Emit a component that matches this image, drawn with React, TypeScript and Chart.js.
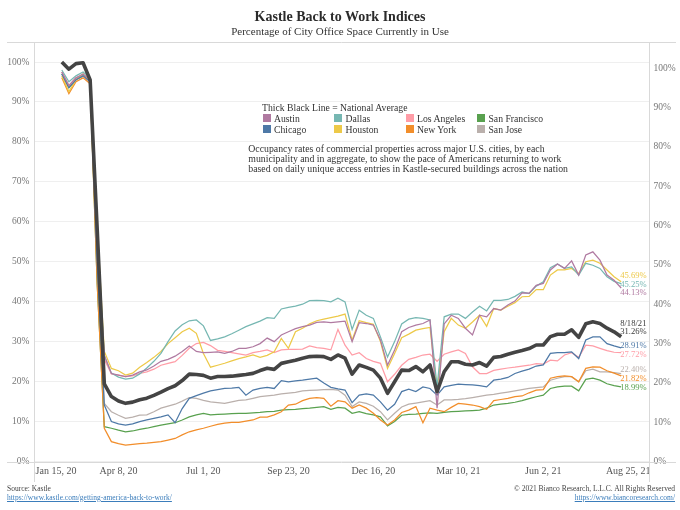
import React, { useEffect, useRef } from "react";
import { Chart, registerables } from "chart.js";

Chart.register(...registerables);

const FONT = "'Liberation Serif', 'Times New Roman', serif";

const AXIS_START = "2020-01-15";
const AXIS_END = "2021-09-15";

const DATES = [
  "2020-02-12", "2020-02-19", "2020-02-26", "2020-03-04", "2020-03-11", "2020-03-18", "2020-03-25",
  "2020-04-01", "2020-04-08", "2020-04-15", "2020-04-22", "2020-04-29",
  "2020-05-06", "2020-05-13", "2020-05-20", "2020-05-27",
  "2020-06-03", "2020-06-10", "2020-06-17", "2020-06-24",
  "2020-07-01", "2020-07-08", "2020-07-15", "2020-07-22", "2020-07-29",
  "2020-08-05", "2020-08-12", "2020-08-19", "2020-08-26",
  "2020-09-02", "2020-09-09", "2020-09-16", "2020-09-23", "2020-09-30",
  "2020-10-07", "2020-10-14", "2020-10-21", "2020-10-28",
  "2020-11-04", "2020-11-11", "2020-11-18", "2020-11-25",
  "2020-12-02", "2020-12-09", "2020-12-16", "2020-12-23", "2020-12-30",
  "2021-01-06", "2021-01-13", "2021-01-20", "2021-01-27",
  "2021-02-03", "2021-02-10", "2021-02-17", "2021-02-24",
  "2021-03-03", "2021-03-10", "2021-03-17", "2021-03-24", "2021-03-31",
  "2021-04-07", "2021-04-14", "2021-04-21", "2021-04-28",
  "2021-05-05", "2021-05-12", "2021-05-19", "2021-05-26",
  "2021-06-02", "2021-06-09", "2021-06-16", "2021-06-23", "2021-06-30",
  "2021-07-07", "2021-07-14", "2021-07-21", "2021-07-28",
  "2021-08-04", "2021-08-11", "2021-08-18",
];

const TICK_DATES = [
  "2020-01-15", "2020-04-08", "2020-07-01", "2020-09-23",
  "2020-12-16", "2021-03-10", "2021-06-02", "2021-08-25",
];
const TICK_LABELS = [
  "Jan 15, 20", "Apr 8, 20", "Jul 1, 20", "Sep 23, 20",
  "Dec 16, 20", "Mar 10, 21", "Jun 2, 21", "Aug 25, 21",
];

const NATIONAL_AVERAGE = [
  100, 98.2, 99.6, 99.8, 95.5, 58,
  19.5, 16.3, 15.2, 14.6, 14.9, 15.5, 15.9, 16.6, 17.4, 18.3,
  19.0, 20.3, 21.9, 21.8, 21.6, 20.9, 21.3, 21.3, 21.4, 21.6,
  21.8, 22.1, 22.8, 23.4, 23.1, 24.6, 25.0, 25.4, 25.9, 26.3,
  26.4, 26.3, 25.6, 26.7, 25.9, 21.9, 24.2, 23.6, 22.9, 20.9,
  17.1, 20.0, 22.9, 22.8, 23.8, 22.5, 24.2, 17.5, 22.5, 25.0,
  25.0, 24.4, 24.2, 24.8, 23.9, 26.1, 26.3, 26.9, 27.4, 27.8,
  28.3, 29.2, 29.2, 31.3, 31.9, 31.9, 33.0, 31.1, 34.5, 35.0,
  34.6, 33.4, 32.5, 31.26,
];

const AUSTIN = [
  99, 95.5, 97.5, 98.5, 97, 55,
  27, 22.4, 22.0, 21.6, 22.0, 22.8, 23.3, 24.3, 25.5, 26.0,
  26.8, 28.0, 29.4, 28.0, 27.7, 27.8, 27.9, 27.5, 28.0, 28.8,
  28.8, 29.2, 30.0, 31.4, 30.5, 32.2, 33.0, 33.8, 34.3, 34.7,
  35.4, 35.5, 35.3, 35.5, 35.7, 30.5, 35.3, 35.1, 34.7, 30.9,
  24.5, 28.4, 33.0, 34.1, 34.7, 35.1, 36.0, 13.6, 35.0, 37.2,
  36.4, 33.9, 32.2, 37.2, 36.8, 38.9, 38.5, 39.8, 40.8, 42.9,
  42.8, 44.8, 45.3, 48.7, 50.2, 49.1, 51.0, 47.4, 52.5, 53.3,
  51.2, 47.4, 46.1, 44.13,
];

const CHICAGO = [
  98.5, 95, 97, 98, 96.5, 50,
  14.4, 10.2, 9.6, 9.3, 9.6, 10.2, 10.6, 11.0, 11.4, 11.9,
  9.9, 13.5, 16.1, 16.8, 17.4, 18.0, 18.3, 18.6, 18.7, 18.9,
  16.9, 18.2, 18.6, 18.9, 18.6, 20.6, 20.3, 20.5, 20.7, 21.0,
  21.2, 20.0, 18.9, 18.5, 18.2, 15.0, 16.9, 17.2, 16.9, 15.2,
  13.1, 14.6, 17.8, 18.4, 17.8, 19.0, 18.6, 16.9, 19.0, 19.4,
  19.7, 19.6, 19.5, 19.3, 19.0, 20.7, 21.0, 21.4, 22.4, 23.0,
  23.5, 24.3, 24.6, 27.5, 27.7, 27.7, 27.9, 26.2, 30.9, 31.7,
  31.7, 30.0, 29.4, 28.91,
];

const DALLAS = [
  99.5, 96.5, 98, 99, 97.5, 58,
  27, 22.5, 21.5, 21.0, 21.2, 22.3, 23.8, 25.5, 27.5, 30.5,
  33.2, 34.8, 35.8, 36.0, 34.5, 30.8, 31.2, 31.7, 32.5, 33.4,
  34.3, 35.0, 35.7, 36.6, 36.4, 38.8, 39.2, 39.5, 40.0, 40.9,
  41.0, 40.9, 40.6, 41.5, 40.6, 33.6, 38.5, 37.2, 36.4, 31.7,
  26.6, 30.5, 35.0, 36.2, 36.6, 36.4, 36.0, 19.0, 36.8, 37.5,
  37.5, 36.4, 38.0, 39.5, 38.3, 41.0, 41.0, 41.2, 42.0, 43.1,
  42.7, 44.6, 45.7, 49.3, 50.2, 49.1, 49.5, 47.4, 50.4, 49.9,
  49.1, 47.0, 45.8, 45.25,
];

const HOUSTON = [
  98, 94, 97, 98.5, 96.5, 60,
  28, 23.7, 23.1, 22.0, 22.5, 24.0, 25.2, 26.5, 28.0, 30.0,
  31.5, 33.0, 33.9, 32.6, 27.5, 24.0, 24.5, 25.0, 25.6, 26.2,
  26.6, 27.1, 26.5, 27.0, 27.9, 31.3, 28.8, 33.0, 33.9, 35.0,
  35.8, 36.2, 36.6, 37.0, 37.5, 30.9, 35.8, 35.3, 34.9, 30.5,
  23.7, 27.5, 31.5, 32.4, 33.4, 33.8, 34.1, 18.2, 33.0, 36.4,
  34.7, 33.9, 35.5, 37.2, 34.4, 38.9, 38.5, 39.5, 40.4, 41.9,
  42.0, 43.7, 43.7, 47.4, 48.7, 48.7, 49.1, 47.8, 50.8, 51.2,
  50.4, 48.7, 47.0, 45.69,
];

const LOS_ANGELES = [
  99, 95.5, 97.5, 98, 96.5, 52,
  26, 22.3, 22.0, 21.6, 21.8, 22.4, 22.8, 23.5, 24.5, 25.0,
  25.4, 27.0, 28.8, 30.0, 30.3, 29.5, 28.3, 28.0, 27.7, 27.4,
  27.1, 27.7, 28.0, 28.4, 27.7, 28.4, 28.5, 28.5, 28.6, 29.4,
  29.0, 28.8, 28.4, 33.6, 29.6, 27.1, 27.7, 26.2, 25.5, 25.0,
  20.3, 22.2, 24.5, 26.0, 26.5, 27.1, 27.3, 25.5, 27.3, 27.9,
  28.4, 27.5, 24.1, 22.4, 22.4, 23.2, 23.5, 23.8, 24.0, 24.3,
  24.5, 24.9, 24.8, 25.8, 25.6, 27.1, 27.7, 26.5, 29.6, 29.4,
  28.8, 28.2, 27.8, 27.72,
];

const NEW_YORK = [
  97.5, 93.5, 96.5, 97.5, 96, 45,
  8.5, 5.1, 4.6, 4.2, 4.4, 4.6, 4.7, 4.9, 5.1, 5.5,
  5.9, 6.8, 7.6, 8.1, 8.5, 9.0, 9.5, 9.8, 10.0, 10.0,
  10.3, 10.6, 11.3, 11.3, 11.9, 12.7, 14.4, 14.6, 15.5, 16.1,
  16.3, 16.1, 14.1, 15.5, 15.2, 13.6, 14.4, 13.6, 12.3, 10.6,
  9.3, 10.6, 12.5, 13.1, 14.0, 9.9, 13.6, 13.1, 12.7, 13.8,
  14.8, 14.6, 14.4, 14.0, 13.3, 15.5, 15.8, 16.1, 16.5, 16.7,
  17.5, 18.2, 18.3, 21.2, 21.6, 21.8, 21.6, 20.3, 23.7, 24.1,
  24.0, 23.1, 22.5, 21.82,
];

const SAN_FRANCISCO = [
  98.5, 95, 97, 98, 96.5, 45,
  8.9, 8.5, 8.0, 7.6, 7.8, 8.2, 8.5, 8.9, 9.3, 9.6,
  9.9, 10.6, 11.4, 11.9, 12.3, 11.9, 12.0, 12.1, 12.2, 12.3,
  12.3, 12.4, 12.5, 12.7, 12.8, 13.1, 13.2, 13.3, 13.5, 13.6,
  13.8, 14.0, 13.3, 13.8, 13.6, 12.3, 12.7, 12.2, 11.9, 11.4,
  9.1, 10.2, 11.8, 12.0, 12.1, 12.3, 12.4, 12.3, 12.5, 12.7,
  12.8, 12.9, 13.0, 13.1, 13.6, 14.4, 14.6, 14.8, 15.1, 15.5,
  16.0, 16.5, 16.9, 18.6, 19.0, 19.2, 19.2, 18.0, 20.9, 21.2,
  20.7, 19.8, 19.3, 18.99,
];

const SAN_JOSE = [
  99, 95.5, 97.5, 98, 97, 48,
  14.8, 12.7, 11.8, 11.0, 11.3, 11.8, 11.9, 12.7, 13.6, 14.1,
  14.6, 15.4, 16.3, 16.1, 15.6, 15.2, 15.0, 14.8, 15.2, 15.6,
  15.7, 16.1, 16.5, 16.7, 16.9, 17.2, 17.4, 17.6, 18.0, 18.1,
  18.2, 18.3, 18.4, 18.2, 16.9, 14.0, 15.2, 14.8, 14.1, 12.7,
  10.6, 12.3, 13.9, 14.6, 14.9, 15.2, 15.5, 14.4, 15.7, 15.7,
  15.8, 16.0, 16.3, 16.6, 16.9, 17.1, 17.4, 17.7, 18.0, 18.3,
  18.6, 18.8, 19.0, 20.7, 21.2, 21.6, 21.6, 20.3, 23.1, 23.5,
  22.8, 22.8, 22.6, 22.40,
];

const CITY_NAMES = [
  "Austin", "Chicago", "Dallas", "Houston",
  "Los Angeles", "New York", "San Francisco", "San Jose",
];
const CITY_VALUES = [
  AUSTIN, CHICAGO, DALLAS, HOUSTON,
  LOS_ANGELES, NEW_YORK, SAN_FRANCISCO, SAN_JOSE,
];
const CITY_COLORS = [
  "#b07aa1", "#4e79a7", "#76b7b2", "#edc948",
  "#ff9da7", "#f28e2b", "#59a14f", "#bab0ac",
];
const AVERAGE_COLOR = "#444444";

const LAST_DATE_LABEL = "8/18/21";
const TITLE = "Kastle Back to Work Indices";
const SUBTITLE = "Percentage of City Office Space Currently in Use";
const LEGEND_HEADER = "Thick Black Line = National Average";
const NOTE_LINES = [
  "Occupancy rates of commercial properties across major U.S. cities, by each",
  "municipality and in aggregate, to show the pace of Americans returning to work",
  "based on daily unique access entries in Kastle-secured buildings across the nation",
];
const SOURCE_TEXT = "Source: Kastle";
const SOURCE_URL = "https://www.kastle.com/getting-america-back-to-work/";
const COPYRIGHT_TEXT = "\u00A9 2021 Bianco Research, L.L.C. All Rights Reserved";
const COPYRIGHT_URL = "https://www.biancoresearch.com/";

const DAY_MS = 86400000;
const toWeeks = (iso: string) =>
  (Date.parse(iso + "T00:00:00Z") - Date.parse(AXIS_START + "T00:00:00Z")) / (7 * DAY_MS);

const TICK_WEEKS = TICK_DATES.map(toWeeks);

let measureCtx: CanvasRenderingContext2D | null = null;
function padFirstLabel(label: string, font: string) {
  if (!measureCtx) measureCtx = document.createElement("canvas").getContext("2d");
  if (!measureCtx) return label;
  measureCtx.font = font;
  const w = measureCtx.measureText(label).width;
  const sp = measureCtx.measureText(" ").width || 3;
  const n = Math.max(0, Math.round((w + 4) / sp));
  return " ".repeat(n) + label;
}

const framePlugin = {
  id: "frameLines",
  beforeDatasetsDraw(chart: any) {
    const { ctx, chartArea: a } = chart;
    ctx.save();
    ctx.strokeStyle = "#d9d9d9";
    ctx.lineWidth = 1;
    ctx.beginPath();
    ctx.moveTo(7, Math.round(a.top) + 0.5);
    ctx.lineTo(676, Math.round(a.top) + 0.5);
    ctx.moveTo(7, Math.round(a.bottom) + 0.5);
    ctx.lineTo(676, Math.round(a.bottom) + 0.5);
    ctx.moveTo(Math.round(a.left) + 0.5, a.top);
    ctx.lineTo(Math.round(a.left) + 0.5, 482);
    ctx.moveTo(Math.round(a.right) - 0.5, a.top);
    ctx.lineTo(Math.round(a.right) - 0.5, 482);
    ctx.stroke();
    ctx.restore();
  },
};

const endLabelPlugin = {
  id: "endLabels",
  afterDatasetsDraw(chart: any) {
    const ctx = chart.ctx;
    ctx.save();
    ctx.font = `8.6px ${FONT}`;
    ctx.textAlign = "left";
    ctx.textBaseline = "middle";
    const items: any[] = [];
    chart.data.datasets.forEach((ds: any, i: number) => {
      const meta = chart.getDatasetMeta(i);
      const el = meta.data[meta.data.length - 1];
      const value = ds.data[ds.data.length - 1].y;
      const text = value.toFixed(2) + "%";
      if (ds.isAverage) {
        ctx.fillStyle = "#3a3a3a";
        ctx.fillText(LAST_DATE_LABEL, el.x - 1, el.y - 13.5);
        ctx.fillText(text, el.x - 1, el.y - 4.8);
      } else {
        items.push({ x: el.x, target: el.y, text, color: ds.borderColor });
      }
    });
    const GAP = 8.6;
    items.sort((a, b) => a.target - b.target);
    let clusters = items.map((it) => ({ members: [it] }));
    const topOf = (c: any) =>
      c.members.reduce((s: number, m: any) => s + m.target, 0) / c.members.length -
      ((c.members.length - 1) * GAP) / 2;
    let merged = true;
    while (merged) {
      merged = false;
      for (let i = 0; i < clusters.length - 1; i++) {
        const a = clusters[i];
        const b = clusters[i + 1];
        if (topOf(a) + a.members.length * GAP > topOf(b)) {
          clusters.splice(i, 2, { members: a.members.concat(b.members) });
          merged = true;
          break;
        }
      }
    }
    clusters.forEach((c) => {
      const t = topOf(c);
      c.members.forEach((m: any, k: number) => {
        ctx.fillStyle = m.color;
        ctx.fillText(m.text, m.x - 1, t + k * GAP);
      });
    });
    ctx.restore();
  },
};

const LEFT_MAX = (100 * (461.7 - 42)) / (461.7 - 62);
const RIGHT_MAX = (100 * (461.7 - 42)) / (461.7 - 68);

export default function App() {
  const canvasRef = useRef<HTMLCanvasElement | null>(null);

  useEffect(() => {
    if (!canvasRef.current) return;
    const xs = DATES.map(toWeeks);
    const tickFontSize = 10;
    const tickFont = `${tickFontSize}px ${FONT}`;

    const datasets: any[] = [
      {
        label: "National Average",
        data: NATIONAL_AVERAGE.map((v, i) => ({ x: xs[i], y: v })),
        borderColor: AVERAGE_COLOR,
        borderWidth: 3.6,
        pointRadius: 0,
        tension: 0,
        yAxisID: "y",
        isAverage: true,
        borderJoinStyle: "round",
      },
      ...CITY_NAMES.map((name, c) => ({
        label: name,
        data: CITY_VALUES[c].map((v, i) => ({ x: xs[i], y: v })),
        borderColor: CITY_COLORS[c],
        borderWidth: 1.25,
        pointRadius: 0,
        tension: 0,
        yAxisID: "y1",
      })),
    ];

    const chart = new Chart(canvasRef.current, {
      type: "line",
      data: { datasets },
      options: {
        animation: false,
        responsive: false,
        maintainAspectRatio: false,
        layout: { padding: { top: 42, left: 0, right: 0, bottom: 0 } },
        plugins: {
          legend: { display: false },
          tooltip: { enabled: false },
          title: { display: false },
        },
        scales: {
          x: {
            type: "linear",
            min: 0,
            max: toWeeks(AXIS_END),
            grid: { display: false, drawTicks: false },
            border: { display: false },
            afterBuildTicks: (scale: any) => {
              scale.ticks = TICK_WEEKS.map((value) => ({ value }));
            },
            afterFit: (scale: any) => {
              scale.height = 510 - 461.7;
              scale.paddingLeft = 0;
              scale.paddingRight = 0;
            },
            ticks: {
              autoSkip: false,
              maxRotation: 0,
              minRotation: 0,
              padding: 4,
              color: "#555",
              font: { family: FONT, size: tickFontSize },
              callback: (value: any) => {
                const idx = TICK_WEEKS.findIndex((w) => Math.abs(w - value) < 1e-6);
                if (idx < 0) return "";
                const label = TICK_LABELS[idx];
                return idx === 0 ? padFirstLabel(label, tickFont) : label;
              },
            },
          },
          y: {
            position: "left",
            min: 0,
            max: LEFT_MAX,
            grid: { color: "#efefef", drawTicks: false },
            border: { display: false },
            afterFit: (scale: any) => {
              scale.width = 33.5;
            },
            ticks: {
              stepSize: 10,
              includeBounds: false,
              padding: 4,
              color: "#777",
              font: { family: FONT, size: 9.5 },
              callback: (v: any) => (v <= 100 ? `${v}%` : ""),
            },
          },
          y1: {
            position: "right",
            min: 0,
            max: RIGHT_MAX,
            grid: { display: false, drawTicks: false },
            border: { display: false },
            afterFit: (scale: any) => {
              scale.width = 680 - 649.5;
            },
            ticks: {
              stepSize: 10,
              includeBounds: false,
              padding: 4,
              color: "#777",
              font: { family: FONT, size: 9.5 },
              callback: (v: any) => (v <= 100 ? `${v}%` : ""),
            },
          },
        },
      } as any,
      plugins: [framePlugin, endLabelPlugin],
    });
    return () => chart.destroy();
  }, []);

  const textBase: React.CSSProperties = {
    position: "absolute",
    fontFamily: FONT,
    color: "#333",
    whiteSpace: "nowrap",
  };

  return (
    <div
      style={{
        position: "absolute",
        left: 0,
        top: 0,
        width: 680,
        height: 510,
        background: "#fff",
        overflow: "hidden",
      }}
    >
      <canvas ref={canvasRef} width={680} height={510} style={{ position: "absolute", left: 0, top: 0, width: 680, height: 510 }} />
      <div style={{ ...textBase, left: 0, top: 9, width: 680, textAlign: "center", fontSize: 14, fontWeight: "bold", lineHeight: "16px", color: "#2b2b2b" }}>
        {TITLE}
      </div>
      <div style={{ ...textBase, left: 0, top: 24, width: 680, textAlign: "center", fontSize: 11, lineHeight: "14px", color: "#333" }}>
        {SUBTITLE}
      </div>
      <div style={{ ...textBase, left: 262, top: 101.5, fontSize: 9.7, lineHeight: "11px" }}>{LEGEND_HEADER}</div>
      {CITY_NAMES.map((name, i) => {
        const col = Math.floor(i / 2);
        const row = i % 2;
        return (
          <div
            key={name}
            style={{
              ...textBase,
              left: 262.7 + col * 71.5,
              top: 112.8 + row * 11,
              height: 11,
              fontSize: 9.7,
              lineHeight: "11px",
              display: "flex",
              alignItems: "center",
            }}
          >
            <span style={{ display: "inline-block", width: 8, height: 8, background: CITY_COLORS[i], marginRight: 3.3 }} />
            {name}
          </div>
        );
      })}
      {NOTE_LINES.map((line, i) => (
        <div key={i} style={{ ...textBase, left: 248.3, top: 143.9 + i * 10.2, fontSize: 9.8, lineHeight: "10.2px" }}>
          {line}
        </div>
      ))}
      <div style={{ ...textBase, left: 7, top: 483.5, fontSize: 7.5, lineHeight: "9px", color: "#444" }}>{SOURCE_TEXT}</div>
      <div style={{ ...textBase, left: 7, top: 492.5, fontSize: 7.5, lineHeight: "9px", color: "#3b7dbb", textDecoration: "underline" }}>
        {SOURCE_URL}
      </div>
      <div style={{ ...textBase, right: 5, top: 483.5, fontSize: 7.5, lineHeight: "9px", color: "#444", textAlign: "right" }}>
        {COPYRIGHT_TEXT}
      </div>
      <div style={{ ...textBase, right: 5, top: 492.5, fontSize: 7.5, lineHeight: "9px", color: "#3b7dbb", textDecoration: "underline", textAlign: "right" }}>
        {COPYRIGHT_URL}
      </div>
    </div>
  );
}
